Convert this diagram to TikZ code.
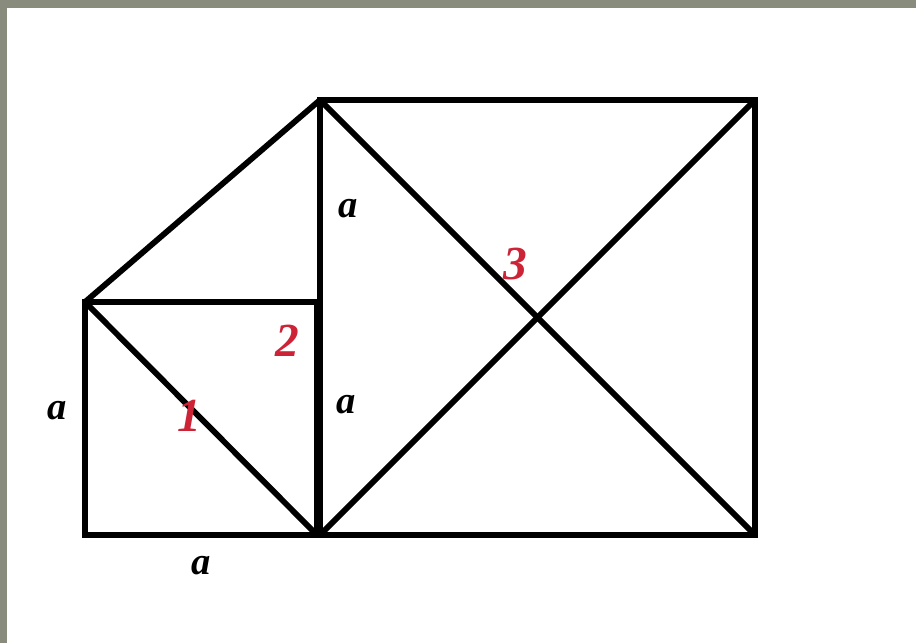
\documentclass[tikz,border=0pt]{standalone}
\usepackage{fontspec}
\setmainfont{Liberation Serif}
\usepackage{xcolor}
\usepackage{tikz}
\usetikzlibrary{positioning}

\definecolor{frame}{RGB}{137,139,125}
\definecolor{numred}{RGB}{205,35,55}

\tikzset{
  edge/.style={line width=3.3pt},
  side/.style={font=\fontsize{22}{24}\selectfont\bfseries\itshape},
  piece/.style={text=numred, font=\fontsize{27}{30}\selectfont\bfseries\itshape}
}

\begin{document}
\begin{tikzpicture}[x=0.02cm, y=-0.02cm]
            % Frame
            \fill[frame] (0,0) rectangle (916,643);
            \fill[white] (7,8) rectangle (916,643);
            \useasboundingbox (0,0) rectangle (916,643);

            % Corner points
            \coordinate (SW) at (85,535);
            \coordinate (NW) at (85,302);
            \coordinate (M) at (317,302);
            \coordinate (Bs) at (317,535);
            \coordinate (B) at (320,535);
            \coordinate (T) at (320,100);
            \coordinate (TR) at (755,100);
            \coordinate (BR) at (755,535);

            % Small square with its diagonal
            \draw[edge] (SW) rectangle (M);
            \draw[edge] (NW) -- (Bs);

            % Triangle on top
            \draw[edge, line cap=round] (NW) -- (T);

            % Rectangle with both diagonals
            \draw[edge] (T) rectangle (BR);
            \draw[edge] (T) -- (BR);
            \draw[edge] (B) -- (TR);

            % Side labels
            \node[side] (a1) at (57,411) {a};
            \node[side] (a2) at (201,566) {a};
            \node[side] (a3) at (348,209) {a};
            \node[side] (a4) at (346,405) {a};

            % Piece numbers
            \node[piece] (n1) at (189,416) {1};
            \node[piece] (n2) at (287,341) {2};
            \node[piece] (n3) at (515,264) {3};
\end{tikzpicture}
\end{document}
